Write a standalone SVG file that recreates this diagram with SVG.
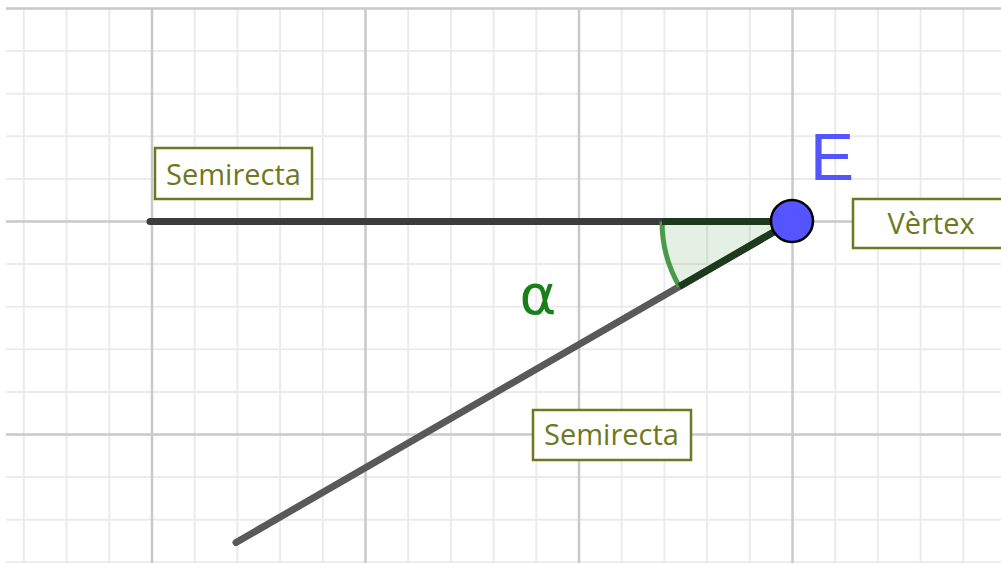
<svg xmlns="http://www.w3.org/2000/svg" width="1001" height="563" viewBox="0 0 1001 563">
<style>
.minor{stroke:#ebebeb;stroke-width:2}
.major{stroke:#c9c9c9;stroke-width:2.5}
.box{fill:#ffffff;stroke:#6e7820;stroke-width:2.5}
.lbl{font-family:"Open Sans","Liberation Sans",sans-serif;font-size:29px;fill:#6e7820;text-anchor:middle}
</style>
<rect width="1001" height="563" fill="#ffffff"/>
<g id="grid">
<g class="minor">
<line x1="23.8" y1="8" x2="23.8" y2="563"/>
<line x1="66.5" y1="8" x2="66.5" y2="563"/>
<line x1="109.3" y1="8" x2="109.3" y2="563"/>
<line x1="194.7" y1="8" x2="194.7" y2="563"/>
<line x1="237.4" y1="8" x2="237.4" y2="563"/>
<line x1="280.1" y1="8" x2="280.1" y2="563"/>
<line x1="322.8" y1="8" x2="322.8" y2="563"/>
<line x1="408.2" y1="8" x2="408.2" y2="563"/>
<line x1="450.9" y1="8" x2="450.9" y2="563"/>
<line x1="493.6" y1="8" x2="493.6" y2="563"/>
<line x1="536.3" y1="8" x2="536.3" y2="563"/>
<line x1="621.7" y1="8" x2="621.7" y2="563"/>
<line x1="664.4" y1="8" x2="664.4" y2="563"/>
<line x1="707.1" y1="8" x2="707.1" y2="563"/>
<line x1="749.8" y1="8" x2="749.8" y2="563"/>
<line x1="835.2" y1="8" x2="835.2" y2="563"/>
<line x1="877.9" y1="8" x2="877.9" y2="563"/>
<line x1="920.6" y1="8" x2="920.6" y2="563"/>
<line x1="963.3" y1="8" x2="963.3" y2="563"/>
<line x1="6" y1="51.1" x2="1001" y2="51.1"/>
<line x1="6" y1="93.7" x2="1001" y2="93.7"/>
<line x1="6" y1="136.3" x2="1001" y2="136.3"/>
<line x1="6" y1="178.9" x2="1001" y2="178.9"/>
<line x1="6" y1="264.1" x2="1001" y2="264.1"/>
<line x1="6" y1="306.7" x2="1001" y2="306.7"/>
<line x1="6" y1="349.3" x2="1001" y2="349.3"/>
<line x1="6" y1="391.9" x2="1001" y2="391.9"/>
<line x1="6" y1="477.1" x2="1001" y2="477.1"/>
<line x1="6" y1="519.7" x2="1001" y2="519.7"/>
<line x1="6" y1="562.3" x2="1001" y2="562.3"/>
</g>
<g class="major">
<line x1="152" y1="8" x2="152" y2="563"/>
<line x1="365.5" y1="8" x2="365.5" y2="563"/>
<line x1="579" y1="8" x2="579" y2="563"/>
<line x1="792.5" y1="8" x2="792.5" y2="563"/>
<line x1="6" y1="8.5" x2="1001" y2="8.5"/>
<line x1="6" y1="221.5" x2="1001" y2="221.5"/>
<line x1="6" y1="434.5" x2="1001" y2="434.5"/>
</g>
</g>
<g id="connectors">
<line id="ray1" x1="150" y1="221.5" x2="792" y2="221.5" stroke="#3c3c3c" stroke-width="7" stroke-linecap="round"/>
<line id="ray2" x1="236" y1="542.5" x2="792" y2="221.5" stroke="#595959" stroke-width="7" stroke-linecap="round"/>
</g>
<g id="angle">
<path d="M792,221.5 L662,221.5 A130,130 0 0 0 679.4,286.5 Z" fill="#4c9a4c" fill-opacity="0.15"/>
<path d="M662,221.5 A130,130 0 0 0 679.4,286.5" fill="none" stroke="#4a9a4a" stroke-width="5"/>
<line x1="662" y1="221.5" x2="792" y2="221.5" stroke="#1e3a1e" stroke-width="7"/>
<line x1="679.4" y1="286.5" x2="792" y2="221.5" stroke="#1e3a1e" stroke-width="7"/>
<text x="538" y="314" font-family="'DejaVu Sans','Liberation Sans',sans-serif" font-size="56" fill="#1a7f1a" text-anchor="middle">α</text>
</g>
<g id="vertexE">
<circle cx="792" cy="221" r="21" fill="#5555ff" stroke="#000000" stroke-width="2.5"/>
<text x="810" y="180" font-family="'Liberation Sans',sans-serif" font-size="66" fill="#5555ff">E</text>
</g>
<g id="label-semirecta1">
<rect class="box" x="155" y="148" width="157" height="51"/>
<text class="lbl" x="233.5" y="185">Semirecta</text>
</g>
<g id="label-semirecta2">
<rect class="box" x="533" y="410" width="158" height="50"/>
<text class="lbl" x="611.5" y="445">Semirecta</text>
</g>
<g id="label-vertex">
<rect class="box" x="853" y="199" width="156" height="49"/>
<text class="lbl" x="931" y="234">Vèrtex</text>
</g>
</svg>
